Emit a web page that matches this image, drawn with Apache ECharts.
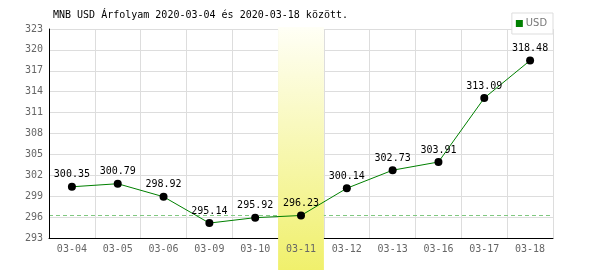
<!DOCTYPE html>
<html><head><meta charset="utf-8">
<script src="https://cdn.jsdelivr.net/npm/echarts@6/dist/echarts.min.js"></script>
<style>html,body{margin:0;padding:0;background:#fff}#c{width:600px;height:270px}</style>
</head><body><div id="c"></div>
<script>
var titleText = 'MNB USD Árfolyam 2020-03-04 és 2020-03-18 között.';
var seriesName = 'USD';
var categories = ['03-04','03-05','03-06','03-09','03-10','03-11','03-12','03-13','03-16','03-17','03-18'];
var usdValues = [300.35, 300.79, 298.92, 295.14, 295.92, 296.23, 300.14, 302.73, 303.91, 313.09, 318.48];
var highlightIndex = 5;
var refValue = 296.23;
var yMin = 293, yMax = 323, yStep = 3;

var bandData = categories.map(function(c, i){ return i === highlightIndex ? 1 : null; });
var mono = '"DejaVu Sans Mono", monospace';

var chart = echarts.init(document.getElementById('c'), null, {renderer:'canvas'});
chart.setOption({
  animation: false,
  backgroundColor: '#fff',
  title: {
    text: titleText, left: 53, top: 10, padding: 0,
    textStyle: {fontFamily: mono, fontSize: 10, fontWeight: 'normal', color: '#000'}
  },
  legend: {
    data: [{name: seriesName, itemStyle: {color: '#008000'}}],
    right: 47, top: 13,
    padding: [5, 6, 5, 4],
    borderColor: '#ddd', borderWidth: 1, backgroundColor: '#fff',
    icon: 'rect', itemWidth: 7, itemHeight: 7, itemGap: 3,
    textStyle: {fontFamily: '"Liberation Sans Narrow","DejaVu Sans Condensed",sans-serif', fontSize: 11, color: '#777', padding: [0,0,0,-2]},
    selectedMode: false, z: 10
  },
  grid: [
    {left: 49, right: 47, top: 29, bottom: 32, containLabel: false},
    {left: 49, right: 47, top: 27, bottom: 0, containLabel: false}
  ],
  xAxis: [
    {type: 'category', gridIndex: 0, data: categories, boundaryGap: true, z: 0,
     axisLine: {show: true, lineStyle: {color: '#000', width: 1}},
     axisTick: {show: false},
     axisLabel: {show: false},
     splitLine: {show: true, lineStyle: {color: '#ddd', width: 1}}},
    {type: 'category', gridIndex: 1, data: categories, boundaryGap: true, z: 3,
     axisLine: {show: false}, axisTick: {show: false}, splitLine: {show: false},
     axisLabel: {show: true, inside: true, margin: 16, color: '#666', fontFamily: mono, fontSize: 10}}
  ],
  yAxis: [
    {type: 'value', gridIndex: 0, min: yMin, max: yMax, interval: yStep, z: 0,
     axisLine: {show: true, lineStyle: {color: '#000', width: 1}},
     axisTick: {show: false},
     axisLabel: {color: '#666', fontFamily: mono, fontSize: 10, margin: 6},
     splitLine: {show: true, lineStyle: {color: '#ddd', width: 1}}},
    {type: 'value', gridIndex: 1, min: 0, max: 1, show: false}
  ],
  series: [
    {type: 'bar', xAxisIndex: 1, yAxisIndex: 1, data: bandData, barWidth: '100%', z: 1,
     silent: true, legendHoverLink: false,
     itemStyle: {color: new echarts.graphic.LinearGradient(0,0,0,1,[
       {offset: 0, color: '#fffff6'}, {offset: 1, color: '#f0f06c'}])}},
    {name: 'ref', type: 'line', xAxisIndex: 0, yAxisIndex: 0, data: usdValues, z: 0, silent: true,
     showSymbol: false, symbol: 'none', lineStyle: {width: 0, opacity: 0}, itemStyle: {color: '#80c880'},
     label: {show: false}, legendHoverLink: false,
     markLine: {silent: true, symbol: 'none', label: {show: false}, z: 0,
       lineStyle: {color: '#80c880', type: [4, 3], width: 1, opacity: 1},
       data: [{yAxis: refValue}]}},
    {name: seriesName, type: 'line', xAxisIndex: 0, yAxisIndex: 0, data: usdValues, z: 5,
     symbol: 'circle', symbolSize: 8,
     lineStyle: {color: '#008000', width: 1},
     itemStyle: {color: '#000'},
     label: {show: true, position: 'top', distance: 3, color: '#000', fontFamily: mono, fontSize: 10,
       formatter: function(p){ return p.value.toFixed(2); }}}
  ]
});
</script></body></html>
